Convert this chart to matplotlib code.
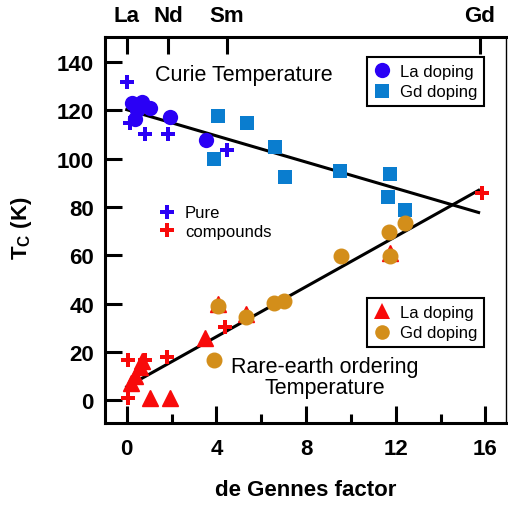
import matplotlib
matplotlib.use("Agg")
import matplotlib.pyplot as plt
from matplotlib.lines import Line2D

plt.rcParams['font.family'] = ['Liberation Sans', 'DejaVu Sans']
plt.rcParams['mathtext.fontset'] = 'custom'
plt.rcParams['mathtext.rm'] = 'Liberation Sans'
plt.rcParams['mathtext.bf'] = 'Liberation Sans:bold'

# ---- data ----
# Curie temperature
la_curie_x = [0.22, 0.67, 1.04, 0.37, 0.45, 1.93, 3.54]
la_curie_y = [123.1, 123.5, 121.0, 116.6, 120.0, 117.1, 107.9]
gd_curie_x = [4.09, 5.36, 3.90, 6.60, 7.05, 9.51, 11.76, 11.66, 12.43]
gd_curie_y = [117.6, 114.8, 99.9, 105.0, 92.6, 94.7, 93.8, 84.1, 78.8]
pure_curie_x = [0.03, 0.16, 0.80, 1.84, 4.47]
pure_curie_y = [131.7, 114.8, 110.4, 110.4, 103.7]
# Rare-earth ordering temperature
la_ord_x = [1.04, 1.93, 3.47, 0.20, 0.37, 0.58, 0.70, 4.06, 5.32, 11.76]
la_ord_y = [0.7, 0.7, 25.6, 7.0, 10.0, 13.8, 16.0, 40.0, 35.5, 61.0]
gd_ord_x = [3.91, 4.06, 5.32, 6.58, 7.02, 9.54, 11.76, 11.70, 12.43]
gd_ord_y = [16.6, 39.0, 34.6, 40.4, 41.2, 59.8, 59.5, 69.8, 73.3]
pure_ord_x = [0.07, 0.82, 1.79, 4.39, 15.87, 0.07]
pure_ord_y = [16.6, 16.6, 18.0, 30.4, 85.8, 0.7]
# fitted lines
curie_fit_x = [0.0, 15.7]
curie_fit_y = [120.3, 77.7]
ord_fit_x = [0.0, 15.7]
ord_fit_y = [5.5, 86.9]
# top axis elements
elem_x = [0.0, 1.84, 4.46, 15.75]
elem_labels = ['La', 'Nd', 'Sm', 'Gd']
xticks = [0, 4, 8, 12, 16]
yticks = [0, 20, 40, 60, 80, 100, 120, 140]

c_blue = '#2a00f5'
c_sq = '#0a7dcf'
c_red = '#f80a0a'
c_gold = '#d38e1a'

fig = plt.figure(figsize=(5.08, 5.06), dpi=100)
ax = fig.add_axes([105/508, 1-424/506, (505.5-105)/508, (424-38)/506])

ax.plot(curie_fit_x, curie_fit_y, color='black', lw=2.2, zorder=2)
ax.plot(ord_fit_x, ord_fit_y, color='black', lw=2.2, zorder=2)

ax.plot(la_ord_x, la_ord_y, '^', color=c_red, ms=11, mec=c_red, ls='none', zorder=3)
ax.plot(gd_ord_x, gd_ord_y, 'o', color=c_gold, ms=10.5, mec=c_gold, ls='none', zorder=4)
ax.plot(pure_ord_x, pure_ord_y, 'P', color=c_red, ms=10, mew=0, ls='none', zorder=5)

ax.plot(gd_curie_x, gd_curie_y, 's', color=c_sq, ms=10.5, mew=0, ls='none', zorder=3)
ax.plot(la_curie_x, la_curie_y, 'o', color=c_blue, ms=11, mew=0, ls='none', zorder=4)
ax.plot(pure_curie_x, pure_curie_y, 'P', color=c_blue, ms=10, mew=0, ls='none', zorder=5)

ax.set_xlim(-0.97, 16.9)
ax.set_ylim(-9.5, 150.4)
ax.set_xticks(xticks)
ax.set_xticks([2, 6, 10, 14], minor=True)
ax.set_yticks(yticks)
ax.tick_params(axis='both', which='major', direction='in', length=12, width=2.2,
               labelsize=16)
ax.tick_params(axis='x', which='major', pad=11)
ax.tick_params(axis='y', which='major', pad=8)
ax.tick_params(axis='x', which='minor', direction='in', length=6.5, width=2.2)
for lab in ax.get_xticklabels() + ax.get_yticklabels():
    lab.set_fontweight('bold')
for s in ['left', 'bottom', 'top']:
    ax.spines[s].set_linewidth(2.2)
ax.spines['right'].set_linewidth(1.0)

top = ax.twiny()
top.set_xlim(ax.get_xlim())
top.set_xticks(elem_x)
top.set_xticklabels(elem_labels, fontsize=16, fontweight='bold')
top.tick_params(axis='x', direction='in', length=12, width=2.2, pad=8)
for s in top.spines.values():
    s.set_visible(False)

ax.set_xlabel('de Gennes factor', fontsize=16, fontweight='bold', labelpad=14)
fig.text(22/508, 1-228/506, r'$\mathbf{T_C}$ (K)', rotation=90, fontsize=16,
         fontweight='bold', ha='center', va='center')

ax.text(0.5, 1-76/506, 'Curie Temperature', transform=fig.transFigure,
        fontsize=15.5, ha='left', va='center')
fig.texts  # no-op
ax.texts[-1].set_x(155/508)
fig.text(325/508, 1-378/506, 'Rare-earth ordering\nTemperature', fontsize=15.5,
         ha='center', va='center', linespacing=0.95)

h1 = [Line2D([], [], marker='o', color=c_blue, ms=11, mew=0, ls='none'),
      Line2D([], [], marker='s', color=c_sq, ms=10.5, mew=0, ls='none')]
leg1 = ax.legend(h1, ['La doping', 'Gd doping'], loc='upper left',
                 bbox_to_anchor=(367/508, 1-58/506), bbox_transform=fig.transFigure,
                 borderaxespad=0, fontsize=12, fancybox=False, framealpha=1,
                 edgecolor='black', handlelength=1.0, handletextpad=0.6,
                 borderpad=0.4, labelspacing=0.35)
leg1.get_frame().set_linewidth(1.5)
ax.add_artist(leg1)

h2 = [Line2D([], [], marker='^', color=c_red, ms=11, mew=0, ls='none'),
      Line2D([], [], marker='o', color=c_gold, ms=10.5, mew=0, ls='none')]
leg2 = ax.legend(h2, ['La doping', 'Gd doping'], loc='upper left',
                 bbox_to_anchor=(367/508, 1-299/506), bbox_transform=fig.transFigure,
                 borderaxespad=0, fontsize=12, fancybox=False, framealpha=1,
                 edgecolor='black', handlelength=1.0, handletextpad=0.6,
                 borderpad=0.4, labelspacing=0.35)
leg2.get_frame().set_linewidth(1.5)
ax.add_artist(leg2)

h3 = [Line2D([], [], marker='P', color=c_blue, ms=10, mew=0, ls='none'),
      Line2D([], [], marker='P', color=c_red, ms=10, mew=0, ls='none')]
leg3 = ax.legend(h3, ['Pure', 'compounds'], loc='upper left',
                 bbox_to_anchor=(155/508, 1-203/506), bbox_transform=fig.transFigure,
                 borderaxespad=0, fontsize=12, frameon=False, handlelength=1.0,
                 handletextpad=0.6, borderpad=0.2, labelspacing=0.2)

fig.savefig('out.png', dpi=100)
